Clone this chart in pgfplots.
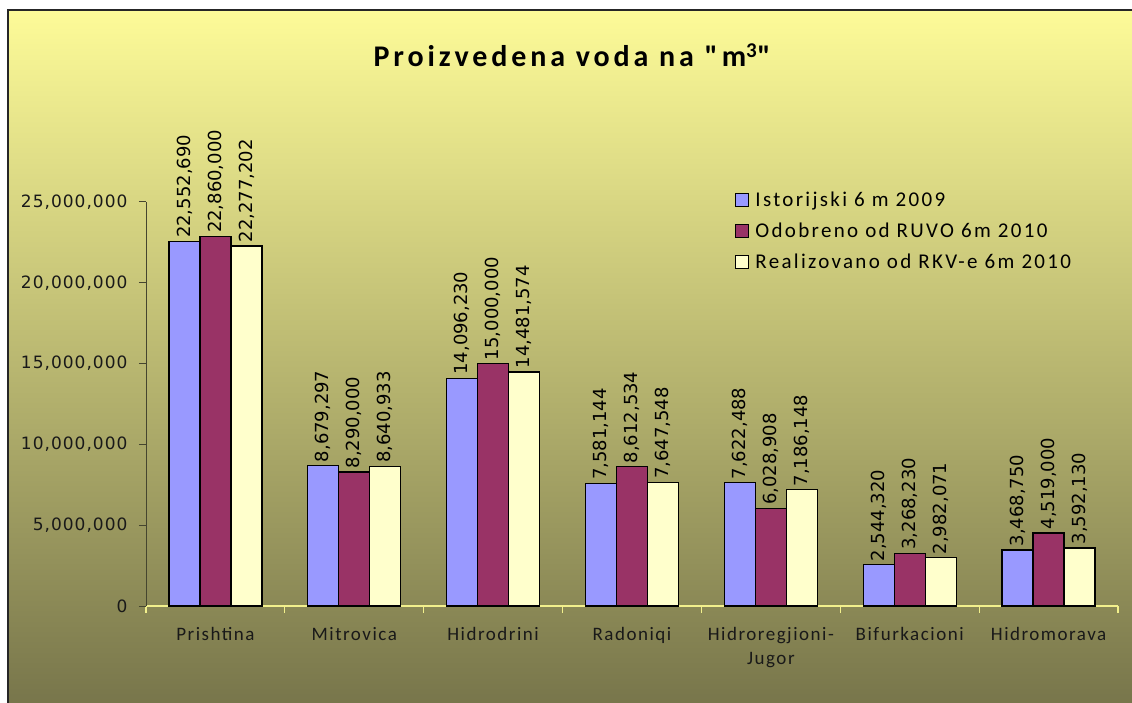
\documentclass[border=0pt]{standalone}
\usepackage{fontspec}
\usepackage{pgfplots}
\usepackage{pgfplotstable}
\pgfplotsset{compat=1.18}
\newfontfamily\calfont{Carlito}[LetterSpace=8]
\newfontfamily\legfont{Carlito}[LetterSpace=11]
\newfontfamily\calbfont{Carlito}[LetterSpace=13]
\newfontfamily\numfont{DejaVu Sans}
\newfontfamily\ticknumfont{DejaVu Sans}[LetterSpace=6]
\definecolor{sA}{HTML}{9999FF}
\definecolor{sB}{HTML}{993366}
\definecolor{sC}{HTML}{FFFFCC}
\definecolor{bgTop}{HTML}{FDFB98}
\definecolor{bgMid}{HTML}{D0CD80}
\definecolor{bgBot}{HTML}{76744A}
\definecolor{xax}{HTML}{F2F08C}
\definecolor{yax}{HTML}{45452F}

\pgfplotstableread{
x y lab
0 22552690 22,552,690
1 8679297 8,679,297
2 14096230 14,096,230
3 7581144 7,581,144
4 7622488 7,622,488
5 2544320 2,544,320
6 3468750 3,468,750
}\tA
\pgfplotstableread{
x y lab
0 22860000 22,860,000
1 8290000 8,290,000
2 15000000 15,000,000
3 8612534 8,612,534
4 6028908 6,028,908
5 3268230 3,268,230
6 4519000 4,519,000
}\tB
\pgfplotstableread{
x y lab
0 22277202 22,277,202
1 8640933 8,640,933
2 14481574 14,481,574
3 7647548 7,647,548
4 7186148 7,186,148
5 2982071 2,982,071
6 3592130 3,592,130
}\tC

\begin{document}
\begin{tikzpicture}[x=1pt,y=1pt]
\useasboundingbox (0,0) rectangle (1132,702);
\begin{scope}
\clip (0,0) rectangle (1132,702);
\shade[top color=bgTop, middle color=bgMid, bottom color=bgBot] (8,-10) rectangle (1140,692);
\draw[line width=1.6pt, black!85] (8,-10) -- (8,692) -- (1140,692);
\end{scope}
\node[anchor=base, font=\calbfont\bfseries\fontsize{30}{30}\selectfont] at (572,635) {Proizvedena voda na "m\textsuperscript{3}"};
\begin{axis}[
  at={(146pt,96pt)}, anchor=south west,
  scale only axis, width=972pt, height=404pt,
  xmin=-0.5, xmax=6.5, ymin=0, ymax=25000000,
  enlargelimits=false, clip=false,
  ybar=0pt, bar width=31pt,
  axis lines*=left,
  x axis line style={draw=xax, line width=1.5pt},
  y axis line style={draw=yax, line width=1pt},
  xtick={-0.5,0.5,...,6.5},
  x tick label as interval,
  xticklabels={Prishtina,Mitrovica,Hidrodrini,Radoniqi,{Hidroregjioni-\\Jugor},Bifurkacioni,Hidromorava},
  xticklabel style={font=\calfont\fontsize{19}{24}\selectfont, align=center, text=black!90, yshift=-11pt},
  x tick style={draw=xax, line width=1.2pt},
  y tick style={draw=yax, line width=1pt},
  tick align=outside, major tick length=7pt,
  ytick={0,5000000,10000000,15000000,20000000,25000000},
  scaled y ticks=false,
  yticklabel style={font=\ticknumfont\fontsize{17}{17}\selectfont, text=black!90, xshift=-8pt},
  /pgf/number format/.cd, fixed, precision=0, 1000 sep={,}, assume math mode=true,
  /pgfplots/.cd,
  point meta=explicit symbolic,
  nodes near coords={\pgfplotspointmeta},
  every node near coord/.append style={rotate=90, anchor=west, font=\numfont\fontsize{18}{18}\selectfont, inner sep=3pt, text=black},
  legend style={at={(0.606,1.03)}, anchor=north west, draw=none, fill=none,
    font=\legfont\fontsize{21}{21}\selectfont, row sep=11pt, inner sep=0pt,
    cells={anchor=west}},
  mylegend/.style={legend image code/.code={\draw[##1, draw=black, line width=1.2pt] (0pt,-6pt) rectangle (13pt,7pt);}},
]
\addplot[fill=sA, draw=black, line width=1.2pt, mylegend] table[x=x, y=y, meta=lab] {\tA};
\addplot[fill=sB, draw=black, line width=1.2pt, mylegend] table[x=x, y=y, meta=lab] {\tB};
\addplot[fill=sC, draw=black, line width=1.2pt, mylegend] table[x=x, y=y, meta=lab] {\tC};
\legend{\hspace{4pt}Istorijski 6 m 2009, \hspace{4pt}Odobreno od RUVO 6m 2010, \hspace{4pt}Realizovano od RKV-e 6m 2010}
\end{axis}
\end{tikzpicture}
\end{document}
